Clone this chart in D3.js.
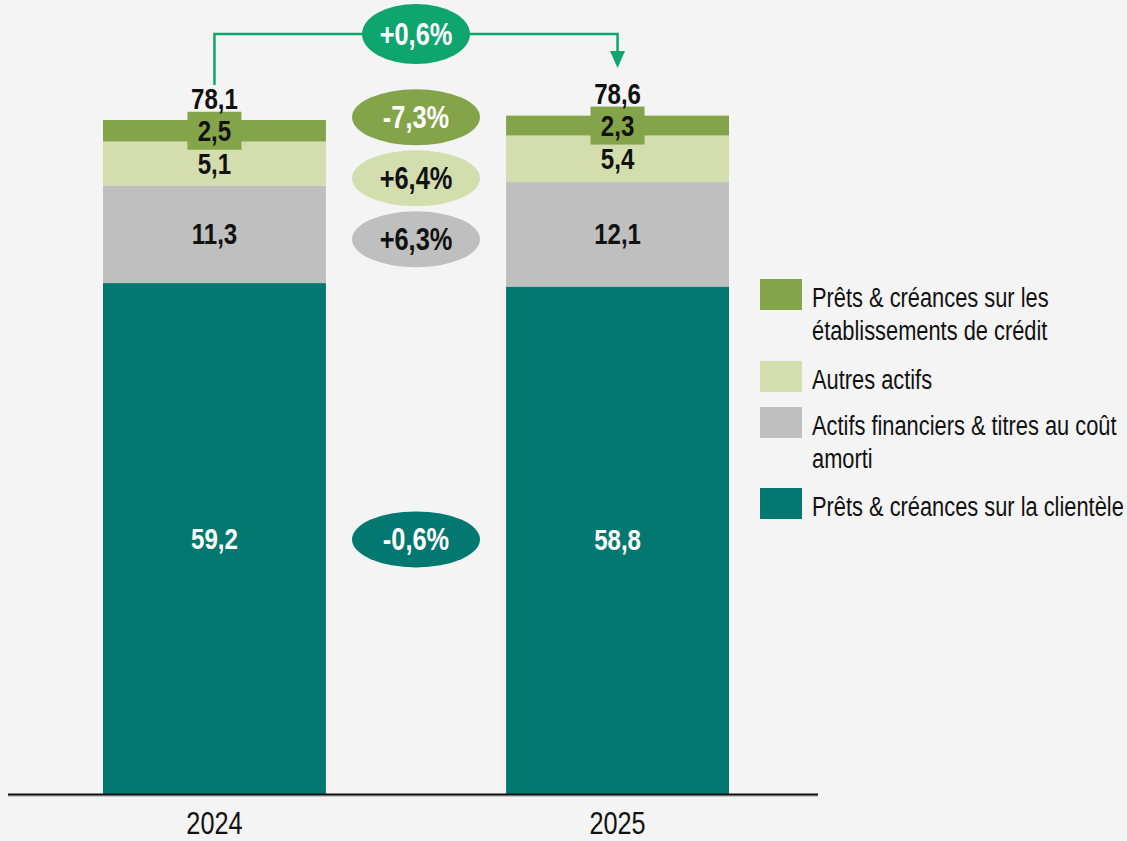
<!DOCTYPE html>
<html>
<head>
	<meta charset="utf-8" />
	<title>Actifs 2024-2025</title>
	<script src="https://cdn.jsdelivr.net/npm/d3@7"></script>
	<style>
		body, html { margin: 0; padding: 0; background: #f4f4f4; }
		svg { display: block; }
		text { font-family: "Liberation Sans", Arial, sans-serif; }
		.num { font-weight: bold; font-size: 29px; }
		.pct { font-weight: bold; font-size: 31px; }
		.legend text { font-size: 28px; fill: #111; }
		.year { font-size: 32px; fill: #111; }
	</style>
</head>
<body>
	<svg id="chart" width="1127" height="841"></svg>
	<script>
		// data
		var years = ["2024", "2025"];
		var clientele = [59.2, 58.8];
		var actifsFin = [11.3, 12.1];
		var autres = [5.1, 5.4];
		var etablissements = [2.5, 2.3];
		var totals = [78.1, 78.6];
		var totalLabels = ["78,1", "78,6"];
		var variations = ["-0,6%", "+6,3%", "+6,4%", "-7,3%"]; // bottom -> top
		var totalVariation = "+0,6%";

		var series = [
			{ key: "clientele", name: ["Prêts & créances sur la clientèle"], values: clientele, color: "#027870", text: "#fff", ellipseText: "#fff" },
			{ key: "actifs", name: ["Actifs financiers & titres au coût", "amorti"], values: actifsFin, color: "#bfbfbf", text: "#111", ellipseText: "#111" },
			{ key: "autres", name: ["Autres actifs"], values: autres, color: "#d3ddae", text: "#111", ellipseText: "#111" },
			{ key: "etab", name: ["Prêts & créances sur les", "établissements de crédit"], values: etablissements, color: "#84a44a", text: "#111", ellipseText: "#fff" }
		];

		var fmt = function (v) { return String(v).replace(".", ","); };

		// narrow look: the original uses a condensed face, so squeeze horizontally
		function narrowText(parent, cls, cx, cy, str, color, sx, anchor) {
			return parent.append("text")
				.attr("class", cls)
				.attr("transform", "translate(" + cx + "," + cy + ") scale(" + sx + ",1)")
				.attr("text-anchor", anchor || "middle")
				.attr("fill", color)
				.text(str);
		}

		var svg = d3.select("#chart");

		var x = d3.scaleBand().domain(years).range([103, 729]).paddingInner(0.447);
		var y = d3.scaleLinear().domain([0, 92]).range([794, 0]);

		// stack
		var rows = years.map(function (yr, i) {
			var r = { year: yr };
			series.forEach(function (s) { r[s.key] = s.values[i]; });
			return r;
		});
		var stack = d3.stack().keys(series.map(function (s) { return s.key; }))(rows);

		var layers = svg.selectAll("g.layer")
			.data(stack)
			.enter().append("g")
			.attr("class", "layer")
			.attr("fill", function (d, i) { return series[i].color; });

		layers.selectAll("rect")
			.data(function (d) { return d; })
			.enter().append("rect")
			.attr("x", function (d) { return x(d.data.year); })
			.attr("y", function (d) { return y(d[1]); })
			.attr("width", x.bandwidth())
			.attr("height", function (d) { return y(d[0]) - y(d[1]); });

		// axis line
		svg.append("line")
			.attr("x1", 8).attr("x2", 818)
			.attr("y1", y(0) + 2).attr("y2", y(0) + 2)
			.attr("stroke", "#999").attr("stroke-width", 1);
		svg.append("line")
			.attr("x1", 8).attr("x2", 818)
			.attr("y1", y(0) + 0.5).attr("y2", y(0) + 0.5)
			.attr("stroke", "#111").attr("stroke-width", 2);

		years.forEach(function (yr) {
			narrowText(svg, "year", x(yr) + x.bandwidth() / 2, 834, yr, "#111", 0.79);
		});

		// segment labels
		var boxTop = [];
		stack.forEach(function (layer, si) {
			var s = series[si];
			layer.forEach(function (d, i) {
				var cx = x(d.data.year) + x.bandwidth() / 2;
				var cy = (y(d[0]) + y(d[1])) / 2;
				if (s.key === "etab") {
					boxTop[i] = cy - 19;
					svg.append("rect")
						.attr("x", cx - 27).attr("y", cy - 19)
						.attr("width", 54).attr("height", 38)
						.attr("fill", s.color);
				}
				narrowText(svg, "num", cx, cy + 10, fmt(s.values[i]), s.text, 0.83);
			});
		});

		// totals, just above the small label box
		years.forEach(function (yr, i) {
			narrowText(svg, "num", x(yr) + x.bandwidth() / 2, Math.min(y(totals[i]) - 9, boxTop[i] - 3), totalLabels[i], "#111", 0.83);
		});

		// variation ellipses between the bars
		var midX = (x("2024") + x.bandwidth() + x("2025")) / 2;
		var bottomMid = (y(0) + y(clientele[0]) + y(0) + y(clientele[1])) / 4;
		var greyMid = (y(clientele[1]) + y(clientele[1] + actifsFin[1])) / 2 + 5;
		var ellipseY = [bottomMid, greyMid, greyMid - 61, greyMid - 122];

		series.forEach(function (s, i) {
			svg.append("ellipse")
				.attr("cx", midX).attr("cy", ellipseY[i])
				.attr("rx", 64).attr("ry", 28)
				.attr("fill", s.color);
			narrowText(svg, "pct", midX, ellipseY[i] + 11, variations[i], s.ellipseText, 0.82);
		});

		// total variation arrow
		var arrowColor = "#0fa56f";
		var x0 = x("2024") + x.bandwidth() / 2;
		var x1 = x("2025") + x.bandwidth() / 2;
		var topY = 34;
		svg.append("path")
			.attr("d", "M" + x0 + "," + (y(totals[0]) - 35) + "V" + topY + "H" + x1 + "V" + 54)
			.attr("fill", "none")
			.attr("stroke", arrowColor)
			.attr("stroke-width", 2.5);
		svg.append("path")
			.attr("d", "M" + (x1 - 7.5) + ",51L" + (x1 + 7.5) + ",51L" + x1 + ",68Z")
			.attr("fill", arrowColor);
		svg.append("ellipse")
			.attr("cx", midX).attr("cy", topY)
			.attr("rx", 54).attr("ry", 30)
			.attr("fill", arrowColor);
		narrowText(svg, "pct", midX, topY + 11, totalVariation, "#fff", 0.82);

		// legend
		var legendItems = series.slice().reverse();
		var legendTop = [279, 361, 407, 488];
		var legend = svg.append("g").attr("class", "legend");
		legendItems.forEach(function (s, i) {
			legend.append("rect")
				.attr("x", 760).attr("y", legendTop[i])
				.attr("width", 42).attr("height", 31)
				.attr("fill", s.color);
			s.name.forEach(function (line, j) {
				narrowText(legend, "", 812, legendTop[i] + 28 + j * 33, line, "#111", 0.78, "start");
			});
		});
	</script>
</body>
</html>
